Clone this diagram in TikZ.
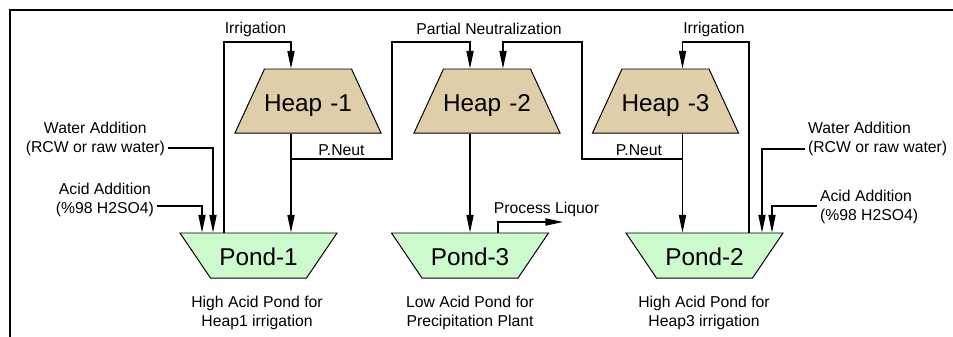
\documentclass[tikz,border=0pt]{standalone}
\usepackage{fontspec}
\setmainfont{Liberation Sans}
\usetikzlibrary{arrows.meta,shapes.geometric}
\definecolor{heapfill}{RGB}{222,206,170}
\definecolor{pondfill}{RGB}{204,250,204}

\begin{document}
\begin{tikzpicture}[x=0.025cm,y=-0.025cm,
    heap/.style={trapezium,trapezium left angle=65.26,trapezium right angle=65.26,inner sep=0pt,
        text width=2.175cm,align=center,text height=1.0675cm,text depth=0.5325cm,
        draw,line width=0.7pt,fill=heapfill,font=\heapfontsize},
    pond/.style={trapezium,trapezium left angle=124.13,trapezium right angle=124.13,inner sep=0pt,
        text width=2.4cm,align=center,text height=0.8cm,text depth=0.325cm,
        draw,line width=0.7pt,fill=pondfill,font=\heapfontsize},
    lbl/.style={inner sep=0pt,align=center,font=\labelfontsize},
    side/.style={lbl,inner xsep=2pt},
    flow/.style={line width=0.75pt,-{Triangle[length=4.4mm,width=1.8mm]}}]
    \providecommand{\heapfontsize}{\fontsize{17.3}{20}\selectfont}
    \providecommand{\labelfontsize}{\fontsize{11.2}{13.5}\selectfont}
    \useasboundingbox (0,0) rectangle (953,336);
    \draw[line width=1.4pt] (10,345) -- (10,10) -- (960,10);

    % heaps and ponds
    \node[heap] (h1) at (308,101) {\makebox[\linewidth]{Heap -1}};
    \node[heap] (h2) at (487,101) {\makebox[\linewidth]{Heap -2}};
    \node[heap] (h3) at (665.5,101) {\makebox[\linewidth]{Heap -3}};
    \node[pond] (p1) at (258.5,255.5) {Pond-1};
    \node[pond] (p3) at (470,255.5) {Pond-3};
    \node[pond] (p2) at (704.5,255.5) {Pond-2};

    % bends of the lines
    \coordinate (irrL) at (224,42);
    \coordinate (h1in) at (291,42);
    \coordinate (pn1) at (291,159);
    \coordinate (pnA) at (392,42);
    \coordinate (h2inA) at (470,42);
    \coordinate (h2inB) at (503,42);
    \coordinate (pnB) at (582,42);
    \coordinate (pn3) at (682.5,159);
    \coordinate (h3in) at (682.5,42);
    \coordinate (irrR) at (749,42);
    \coordinate (wlin) at (213,148);
    \coordinate (alin) at (202,206);
    \coordinate (wrin) at (762,149);
    \coordinate (arin) at (772,206);
    \coordinate (plA) at (498,222);
    \coordinate (plB) at (563,222);

    \draw[flow] (p1.north -| irrL) -- (irrL) -- (h1in) -- (h1.north -| h1in);
    \draw[flow] (h1.south -| h1in) -- (p1.north -| h1in);
    \draw[flow] (pn1) -| (pnA) -- (h2inA) -- (h2.north -| h2inA);
    \draw[flow] (h2.south -| h2inA) -- (p3.north -| h2inA);
    \draw[flow] (pn3) -| (pnB) -- (h2inB) -- (h2.north -| h2inB);
    \draw[flow] (p2.north -| irrR) -- (irrR) -- (h3in) -- (h3.north -| h3in);
    \draw[flow] (h3.south -| h3in) -- (p2.north -| h3in);
    \draw[flow] (p3.north -| plA) -- (plA) -- (plB);

    % water and acid feeds
    \node[side,anchor=east] (wl) at (168,138.5) {Water Addition\\(RCW or raw water)};
    \node[side,anchor=east] (al) at (157,200) {Acid Addition\\(\%98 H2SO4)};
    \node[side,anchor=west,align=left] (wr) at (805,139) {Water Addition\\(RCW or raw water)};
    \node[side,anchor=west,align=left] (ar) at (817,207) {Acid Addition\\(\%98 H2SO4)};
    \draw[flow] (wl.east |- wlin) -- (wlin) -- (p1.north -| wlin);
    \draw[flow] (al.east |- alin) -- (alin) -- (p1.north -| alin);
    \draw[flow] (wr.west |- wrin) -- (wrin) -- (p2.north -| wrin);
    \draw[flow] (ar.west |- arin) -- (arin) -- (p2.north -| arin);

    % texts
    \node[lbl] (irr1) at (255.5,29) {Irrigation};
    \node[lbl] (pneu) at (489,29) {Partial Neutralization};
    \node[lbl] (irr3) at (714,29) {Irrigation};
    \node[lbl] (pnt1) at (341.5,150) {P.Neut};
    \node[lbl] (pnt3) at (639,150) {P.Neut};
    \node[lbl] (liq) at (546.5,209) {Process Liquor};
    \node[lbl] (d1) at (257,312.5) {High Acid Pond for\\Heap1 irrigation};
    \node[lbl] (d3) at (470,312.5) {Low Acid Pond for\\Precipitation Plant};
    \node[lbl] (d2) at (704,312.5) {High Acid Pond for\\Heap3 irrigation};
\end{tikzpicture}
\end{document}
